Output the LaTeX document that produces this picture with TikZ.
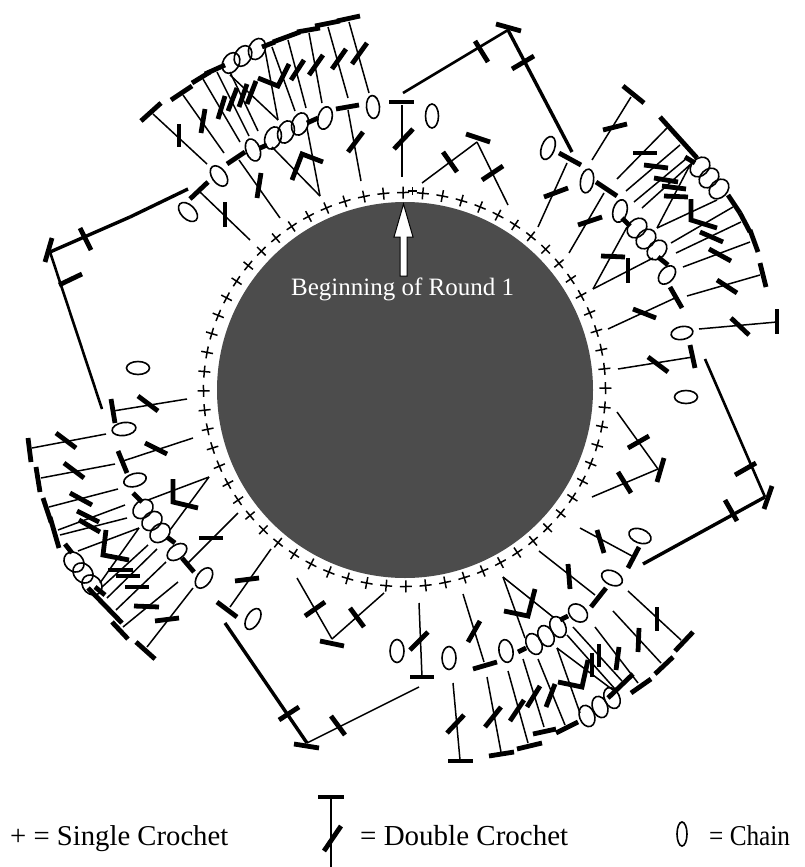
\documentclass[tikz,border=0pt]{standalone}
\usepackage{fontspec}
\setmainfont{Liberation Serif}
\tikzset{
  thinline/.style={black,line width=1.5pt},
  medline/.style={black,line width=2.6pt},
  heavyline/.style={black,line width=3.4pt},
  barline/.style={black,line width=4.8pt},
  chainloop/.style={black,line width=1.6pt},
  plusmark/.style={black,line width=1.5pt},
  labeltext/.style={inner sep=0pt,anchor=base west}
}
\begin{document}
\begin{tikzpicture}[x=1pt,y=-1pt]
\useasboundingbox (0,0) rectangle (804,867);
\fill[white] (0,0) rectangle (804,867);
\fill[black!70] (405,390) circle [radius=188];
% single crochet ring
\foreach \t in {0,5.625,...,359} {
  \draw[plusmark,shift={({404.5+201*cos(\t+90.4)},{389.5-197*sin(\t+90.4)})},rotate=\t+0.4]
    (-6,0)--(6,0) (0,-6)--(0,6);
}
\draw[plusmark,line width=1.1pt] (408,191)--(417,191) (412.5,187)--(412.5,195);
% arrow
\draw[black,fill=white,line width=1pt] (403.5,204)--(413,237)--(407,237)--(407,276)--(400,276)--(400,237)--(394,237)--cycle;
\node[labeltext,white,font=\fontsize{25}{28}\selectfont] (begin) at (291,295) {Beginning of Round 1};
% thin stems
\foreach \a/\b/\c/\d in {
 153/114/207/164, 183/95/224/153, 203/79/240/142, 217/72/249/136, 230/72/258/131,
 230/75/278/120, 265/50/278/120, 272/47/295/111, 288/40/306/108, 309/33/322/103,
 328/27/348/98, 349/22/369/93,
 200/192/250/240, 239/160/280/218, 320/196/272/147, 320/196/307/128,
 348/110/361/181, 402/105/402/177,
 422/183/477/142, 477/142/508/205, 567/163/538/227, 604/193/569/253, 631/97/592/160,
 667/128/617/179, 680/145/626/191, 687/158/634/202, 692/163/642/208,
 657/228/690/165, 657/228/717/200, 733/207/671/243, 741/222/676/253, 750/242/683/267,
 593/289/627/227, 593/289/653/258, 760/275/687/296,
 608/329/675/298, 699/329/777/322, 618/369/693/357,
 617/412/658/469, 592/497/658/469, 580/528/632/556,
 539/551/595/595, 628/591/681/640, 613/611/661/663, 595/627/638/683, 573/627/622/681, 567/635/615/689,
 463/594/484/662, 503/577/525/638, 503/577/553/617, 557/648/580/713, 557/648/613/690,
 419/603/422/677, 453/683/460/760, 487/677/501/752, 508/671/528/743, 523/659/544/727, 538/659/565/725,
 238/513/188/563, 271/549/230/607, 297/578/332/639, 384/593/332/639,
 307/743/419/687,
 113/411/187/399, 32/448/106/434, 123/461/193/438, 41/478/115/464, 49/507/118/489,
 58/530/125/505, 60/535/127/518, 209/477/148/500, 209/477/170/530, 139/528/78/551, 139/528/100/583,
 148/545/102/587, 157/549/107/598, 166/562/116/610, 178/582/123/627, 193/588/147/647,
 331/797/331/867} {
  \draw[thinline] (\a,\b)--(\c,\d);
}
% medium lines
\foreach \a/\b/\c/\d in {
 403/93/508/30, 50/252/102/409, 705/359/765/497} {
  \draw[medline] (\a,\b)--(\c,\d);
}
% heavy lines
\foreach \a/\b/\c/\d in {
 130/217/188/189, 50/252/130/217, 508/30/572/152, 643/564/765/497, 225/623/307/743} {
  \draw[heavyline] (\a,\b)--(\c,\d);
}
% bars
\foreach \a/\b/\c/\d in {
 141/121/161/103, 171/100/192/86, 192/83/210/72, 205/74/225/65,
 262/47/275/42, 273/42/300/32, 297/32/320/28, 315/26/340/21, 337/21/360/16,
 179/124/179/147, 205/109/201/133, 225/96/218/119, 237/88/228/111, 247/84/239/107, 256/81/247/104,
 304/60/291/80, 323/55/309/75, 346/49/332/69, 367/43/352/64,
 336/109/359/105, 389/102/414/102, 307/123/318/118, 260/148/267/145, 227/164/245/152, 190/199/208/182,
 52/238/45/262, 80/228/91/250, 59/285/82/274,
 225/202/225/227, 261/173/257/198,
 363/132/348/152, 413/129/394/149,
 496/24/521/31, 475/41/488/62, 512/69/534/56,
 466/134/490/142, 443/152/457/172, 482/180/503/166,
 559/153/581/165, 544/197/568/188, 596/182/617/196, 578/225/602/217,
 623/86/644/103, 603/130/627/124,
 660/117/697/158, 685/157/695/163, 728/195/740/213, 740/213/750/232, 750/230/758/252,
 633/153/657/153, 644/165/668/168, 654/178/678/182, 662/186/686/189, 664/196/688/197,
 700/232/723/242, 709/249/731/261,
 622/218/630/226, 658/257/668/265, 601/256/625/257, 628/258/628/283,
 760/263/766/287, 717/280/737/293,
 670/287/682/308, 633/309/656/318, 777/309/777/334, 731/318/749/335,
 690/345/695/368, 648/357/668/372, 735/475/756/463, 772/486/764/509, 725/500/737/521,
 628/448/649/436, 664/458/657/482, 618/472/631/493,
 597/530/604/553, 639/547/628/568,
 568/564/570/589, 606/588/591/607, 560/620/568/616, 518/652/526/648, 473/669/497/662,
 480/621/468/642, 428/632/410/650, 410/677/434/677,
 331/716/345/735, 294/744/319/748, 279/720/299/707,
 464/715/447/733, 448/761/473/761, 501/707/485/727, 489/756/514/752,
 524/700/510/721, 517/749/542/743, 540/686/527/707, 533/734/556/729, 555/684/546/707, 556/733/578/722,
 608/698/633/674, 592/653/592/677, 599/644/599/667, 619/647/616/670, 639/628/638/652, 657/607/657/631,
 631/693/651/679, 655/674/673/657, 675/651/693/632,
 199/538/223/538, 217/602/237/617, 235/581/259/578,
 305/616/325/602, 350/608/364/627, 320/641/344/646,
 155/621/179/618, 136/642/155/659,
 111/399/115/423, 138/396/158/411, 28/438/31/462, 56/433/76/448, 118/451/127/473, 145/443/167/454,
 36/467/40/492, 64/463/84/478, 70/493/92/505, 43/498/51/522, 50/517/59/548,
 77/511/99/522, 79/520/100/532, 133/493/142/502, 167/537/175/543, 182/558/194/572, 65/544/72/553,
 108/570/133/570, 116/576/140/576, 125/587/149/587, 134/606/159/607,
 88/588/122/623, 95/587/105/595, 112/622/128/639,
 318/797/344/797, 341/826/324/851} {
  \draw[barline] (\a,\b)--(\c,\d);
}
% V-shaped double bars
\foreach \a/\b/\c/\d/\e/\f in {
 258/78/278/86/289/64, 292/180/302/154/323/162,
 691/199/691/220/717/228, 504/611/528/616/535/589, 558/682/582/687/588/660,
 173/479/173/502/198/508, 106/530/103/555/129/560} {
  \draw[barline,line join=miter] (\a,\b)--(\c,\d)--(\e,\f);
}
% chains: x/y/long radius/short radius/angle of long axis
\foreach \x/\y/\l/\s/\r in {
 231/63/11/8/60, 243/56/11/8/60, 257/49/11/8/65,
 373/107/11.5/6.5/95, 325/118/11.5/7/75, 300/124/11.5/8/70, 286/132/11.5/8/70, 273/138/11.5/8/70,
 253/150/11.5/7/110, 219/176/11.5/7/125, 188/212/11.5/7/135,
 432/116/12/6.5/90, 548/148/12/6.5/70, 587/181/12/6.5/80, 620/211/11.5/7/75,
 637/228/11/8.5/45, 646/239/11/8.5/45, 657/250/11/8.5/45, 667/275/10.5/7/50,
 700/167/11/8.5/45, 709/178/11/8.5/45, 719/189/11/8.5/45,
 682/333/11/6.5/10, 686/397/11.5/6.5/0, 640/536/11.5/7/-20, 612/578/11/7/-25,
 578/613/10.5/8/-40, 558/627/11/7.5/-65, 546/636/11/7.5/-65, 534/644/11/7.5/-65,
 506/651/11.5/7/100, 449/658/11.5/7/90, 397/651/11.5/7/90,
 587/716/11/7.5/110, 600/707/11/7.5/110, 612/698/11/7.5/115,
 253/619/11.5/6.5/60, 204/578/11.5/7/55, 177/552/11/7/35,
 160/533/11/8.5/40, 152/521/11/8.5/40, 143/509/11/8.5/40,
 138/368/11.5/6.5/0, 124/429/12/6.5/8, 135/480/11.5/6.5/15,
 74/562/11/9/135, 83/573/11/9/135, 92/585/11/9/135,
 682/834/12/5/90} {
  \draw[chainloop,shift={(\x,\y)},rotate=\r] (0,0) ellipse [x radius=\l,y radius=\s];
}
% legend
\node[labeltext,font=\fontsize{28.7}{30}\selectfont] (lsc) at (10,845) {+ = Single Crochet};
\node[labeltext,font=\fontsize{29}{30}\selectfont] (ldc) at (360,845) {= Double Crochet};
\node[labeltext,font=\fontsize{28.7}{30}\selectfont] (lch) at (709,845) {\scalebox{.88}[1]{= Chain}};
\end{tikzpicture}
\end{document}
